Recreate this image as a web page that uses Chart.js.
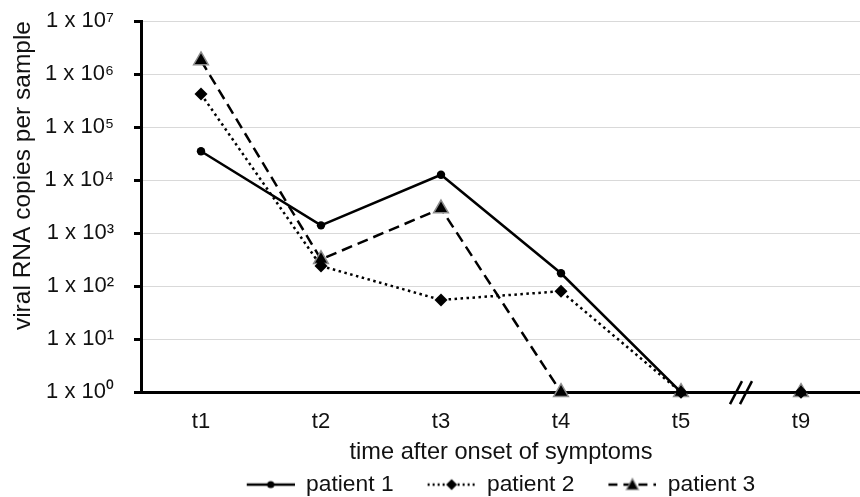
<!DOCTYPE html>
<html>
<head>
<meta charset="utf-8">
<title>viral RNA copies per sample</title>
<script src="https://cdn.jsdelivr.net/npm/chart.js@4.4.1/dist/chart.umd.min.js"></script>
<style>
  html, body { margin: 0; padding: 0; background: #fff; overflow: hidden; }
  /* the original figure is cut off at the right edge, so the canvas is a bit wider than the window */
  #wrap { width: 871px; height: 497px; }
</style>
</head>
<body>
<div id="wrap"><canvas id="chart" width="871" height="497"></canvas></div>
<script>
/* ---------- data ---------- */
const timepoints = ["t1", "t2", "t3", "t4", "t5", "t9"];
const patient1 = [35000, 1400, 12600, 175, 1, 1];
const patient2 = [420000, 240, 55, 80, 1, 1];
const patient3 = [1800000, 320, 2900, 1, 1, 1];

const yTicks = [1, 10, 100, 1000, 10000, 100000, 1000000, 10000000];
const yTickLabels = ["1 x 10⁰", "1 x 10¹", "1 x 10²", "1 x 10³", "1 x 10⁴", "1 x 10⁵", "1 x 10⁶", "1 x 10⁷"];

const FONT = "'Liberation Sans', Arial, sans-serif";
const INK = "#111";
const GRID = "#d9d9d9";

/* ---------- legend icons : line + marker ---------- */
function legendIcon(dash, marker) {
  const c = document.createElement("canvas");
  c.width = 72; c.height = 16;
  const g = c.getContext("2d");
  g.strokeStyle = "#000"; g.lineWidth = 2.5; g.setLineDash(dash);
  g.beginPath(); g.moveTo(24, 8); g.lineTo(72, 8); g.stroke();
  g.setLineDash([]);
  g.fillStyle = "#000";
  g.beginPath();
  if (marker === "circle") {
    g.arc(48, 8, 3.6, 0, Math.PI * 2);
    g.fill();
  } else if (marker === "diamond") {
    g.moveTo(48, 2.5); g.lineTo(53.5, 8); g.lineTo(48, 13.5); g.lineTo(42.5, 8); g.closePath();
    g.fill();
  } else {
    g.moveTo(48, 2); g.lineTo(54, 13); g.lineTo(42, 13); g.closePath();
    g.fill();
    g.strokeStyle = "#8c8c8c"; g.lineWidth = 1.2; g.stroke();
  }
  return c;
}
const icons = [legendIcon([], "circle"), legendIcon([2, 3], "diamond"), legendIcon([9, 6], "triangle")];

/* ---------- the // break between t5 and t9 ---------- */
const axisBreak = {
  id: "axisBreak",
  afterDatasetsDraw(chart) {
    const x = chart.scales.x;
    const cx = (x.getPixelForValue(4) + x.getPixelForValue(5)) / 2;
    const cy = chart.chartArea.bottom;
    const ctx = chart.ctx;
    ctx.save();
    ctx.strokeStyle = "#000"; ctx.lineWidth = 2.5;
    [-5, 5].forEach((dx) => {
      ctx.beginPath();
      ctx.moveTo(cx + dx - 6, cy + 12);
      ctx.lineTo(cx + dx + 6, cy - 11);
      ctx.stroke();
    });
    ctx.restore();
  },
};

// icons carry a blank margin on their left, pull the legend back to keep it centred
const legendNudge = {
  id: "legendNudge",
  afterLayout(chart) {
    if (!chart.legend) return;
    chart.legend.left -= 12;
    chart.legend.right -= 12;
  },
};

const common = { fill: false, tension: 0, clip: false, borderColor: "#000", backgroundColor: "#000", pointBackgroundColor: "#000" };

new Chart(document.getElementById("chart"), {
  type: "line",
  data: {
    labels: timepoints,
    datasets: [
      { ...common, label: "patient 1", data: patient1, borderWidth: 2.5, pointStyle: "circle", pointRadius: 4.2, pointBorderWidth: 0 },
      { ...common, label: "patient 2", data: patient2, borderWidth: 2.5, borderDash: [2.5, 3.5], pointStyle: "rectRot", pointRadius: 6.5, pointBorderWidth: 0 },
      { ...common, label: "patient 3", data: patient3, borderWidth: 2.5, borderDash: [11, 6], pointStyle: "triangle", pointRadius: 8.5,
        pointBorderColor: "#8c8c8c", pointBorderWidth: 1.5 },
    ],
  },
  options: {
    responsive: false, animation: false, devicePixelRatio: 1,
    layout: { padding: { top: 21, right: 0, bottom: -9, left: 0 } },
    plugins: {
      tooltip: { enabled: false },
      legend: {
        position: "bottom", fullSize: false,
        labels: {
          usePointStyle: true, pointStyleWidth: 72, padding: 10, color: INK,
          font: { family: FONT, size: 22.8 },
          generateLabels: (chart) => chart.data.datasets.map((ds, i) => ({
            text: ds.label, pointStyle: icons[i], datasetIndex: i, hidden: false,
            fontColor: INK, lineWidth: 0, strokeStyle: "rgba(0,0,0,0)", fillStyle: "rgba(0,0,0,0)",
          })),
        },
      },
    },
    scales: {
      x: {
        type: "category", offset: true,
        afterFit: (s) => { s.height = 71; },
        grid: { display: false, drawTicks: false },
        border: { display: true, color: "#000", width: 3 },
        ticks: { color: INK, padding: 17, font: { family: FONT, size: 22 } },
        title: { display: true, text: "time after onset of symptoms", color: INK, padding: { top: 0, bottom: -3 }, font: { family: FONT, size: 23.6 } },
      },
      y: {
        type: "logarithmic", min: 1, max: 10000000,
        afterFit: (s) => { s.width = 141; s.paddingTop = 0; s.paddingBottom = 0; },
        afterBuildTicks: (s) => { s.ticks = yTicks.map((v) => ({ value: v })); },
        grid: { color: GRID, lineWidth: 1, tickColor: "#000", tickWidth: 3, tickLength: 7 },
        border: { display: true, color: "#000", width: 3 },
        ticks: { color: INK, padding: 20, font: { family: FONT, size: 22 },
          callback: (v) => yTickLabels[yTicks.indexOf(v)] },
        title: { display: true, text: "viral RNA copies per sample", color: INK, align: "end", padding: { top: 9, bottom: 0 }, font: { family: FONT, size: 24.5 } },
      },
    },
  },
  plugins: [axisBreak, legendNudge],
});
</script>
</body>
</html>
